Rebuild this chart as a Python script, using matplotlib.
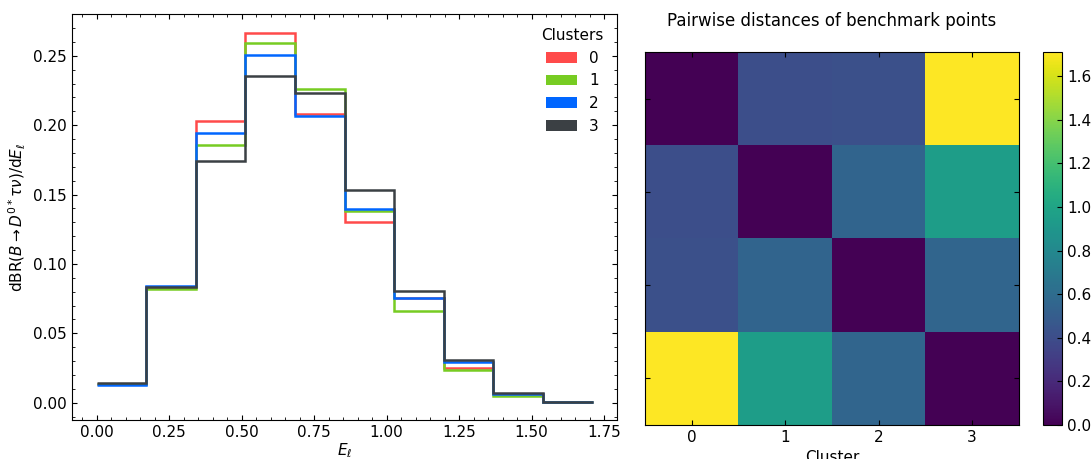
import numpy as np
import matplotlib
matplotlib.use('Agg')
import matplotlib.pyplot as plt
from matplotlib.patches import Patch
from matplotlib.ticker import AutoMinorLocator

# bin edges of the lepton energy histogram
E_edges = [0.0, 0.171, 0.342, 0.513, 0.684, 0.855, 1.026, 1.197, 1.368, 1.539, 1.71]

# dBR/dE per bin, one array per cluster
cluster0 = [0.0135, 0.0835, 0.2031, 0.2666, 0.2079, 0.1303, 0.0755, 0.0250, 0.0060, 0.0005]
cluster1 = [0.0135, 0.0822, 0.1858, 0.2591, 0.2264, 0.1385, 0.0663, 0.0236, 0.0050, 0.0005]
cluster2 = [0.0130, 0.0841, 0.1947, 0.2505, 0.2067, 0.1394, 0.0755, 0.0293, 0.0060, 0.0005]
cluster3 = [0.0142, 0.0835, 0.1740, 0.2351, 0.2231, 0.1531, 0.0803, 0.0308, 0.0070, 0.0005]

cluster_names = ['0', '1', '2', '3']
cluster_colors = ['#ff4a4a', '#77cc22', '#0066ff', '#3b4044']

# pairwise distances between the benchmark points
dist_row0 = [0.00, 0.41, 0.42, 1.709]
dist_row1 = [0.41, 0.00, 0.55, 0.95]
dist_row2 = [0.42, 0.55, 0.00, 0.56]
dist_row3 = [1.709, 0.95, 0.56, 0.00]

plt.rcParams['font.family'] = ['DejaVu Sans']
plt.rcParams['font.size'] = 11

fig = plt.figure(figsize=(10.92, 4.59), dpi=100)

# left: histograms
ax = fig.add_axes([0.0659, 0.0839, 0.4994, 0.885])
for vals, name, col in zip([cluster0, cluster1, cluster2, cluster3], cluster_names, cluster_colors):
    ax.stairs(vals, E_edges, baseline=None, color=col, lw=1.8)

ax.set_xlim(-0.0855, 1.7955)
ax.margins(y=0.05)
ax.set_xticks([0.0, 0.25, 0.5, 0.75, 1.0, 1.25, 1.5, 1.75])
ax.xaxis.set_minor_locator(AutoMinorLocator())
ax.yaxis.set_minor_locator(AutoMinorLocator())
ax.tick_params(which='both', direction='in', top=True, right=True)
ax.set_xlabel(r'$E_\ell$', labelpad=1)
ax.set_ylabel(r'dBR$(B\to D^{0*}\tau\nu)$/d$E_\ell$')

handles = [Patch(facecolor=c) for c in cluster_colors]
ax.legend(handles, cluster_names, title='Clusters', frameon=False, loc='upper right',
          fontsize=11, title_fontsize=11)

# right: distance matrix
dist = np.array([dist_row0, dist_row1, dist_row2, dist_row3])
ax2 = fig.add_axes([0.5909, 0.0741, 0.3419, 0.812])
im = ax2.imshow(dist, cmap='viridis', aspect='auto', vmin=0, vmax=dist.max())
ax2.set_xticks(range(4))
ax2.set_yticks(range(4))
ax2.set_xticklabels(cluster_names)
ax2.tick_params(direction='in', top=True, right=True, labelleft=False)
ax2.set_xlabel('Cluster')
ax2.set_title('Pairwise distances of benchmark points', fontsize=12, pad=19)

cax = fig.add_axes([0.9554, 0.0741, 0.0171, 0.812])
cb = fig.colorbar(im, cax=cax)
cb.ax.tick_params(direction='in')

fig.savefig('out.png', dpi=100)
